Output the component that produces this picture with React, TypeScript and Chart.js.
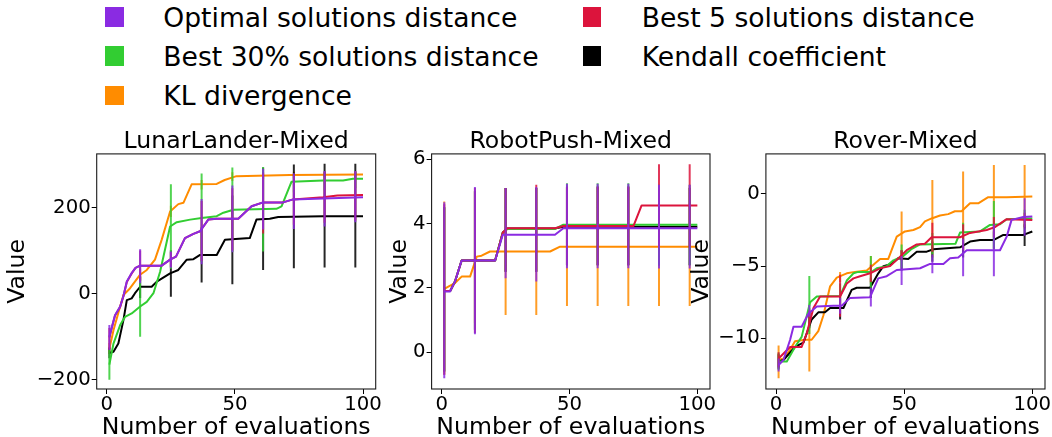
import React, { useEffect, useRef } from 'react';
import { Chart, registerables } from 'chart.js';

Chart.register(...registerables);

const FONT = "'DejaVu Sans', 'Noto Sans', sans-serif";

// ---------- legend / series ----------
const SERIES_NAMES = [
  'Optimal solutions distance',
  'Best 5 solutions distance',
  'Best 30% solutions distance',
  'Kendall coefficient',
  'KL divergence',
];
const SERIES_COLORS = ['#8a2be2', '#dc143c', '#32cd32', '#000000', '#ff8c00'];
const BAR_COLORS = [
  'rgba(138,43,226,0.85)',
  'rgba(220,20,60,0.85)',
  'rgba(50,205,50,0.85)',
  'rgba(0,0,0,0.85)',
  'rgba(255,140,0,0.85)',
];
// legend layout order (column-major, two columns)
const LEGEND_ORDER = [0, 2, 4, 1, 3];

const PANEL_TITLES = ['LunarLander-Mixed', 'RobotPush-Mixed', 'Rover-Mixed'];
const X_LABEL = 'Number of evaluations';
const Y_LABEL = 'Value';
const X_TICKS = [0, 50, 100];
const LL_Y_TICKS = [-200, 0, 200];
const RP_Y_TICKS = [0, 2, 4, 6];
const RV_Y_TICKS = [-10, -5, 0];
const ERR_X = [1, 13, 25, 37, 49, 61, 73, 85, 97];

// ---------- LunarLander-Mixed ----------
const LL_OPT = [[1,-100],[2,-77],[3.2,-50],[5.2,-30],[6.5,-5],[7.8,28],[9.7,48],[11.2,60],[13,65],[21.4,65],[24.7,79],[27,86],[30.5,129],[33.8,139],[36.4,145],[39.6,172],[42.9,174],[51.3,174],[56.5,203],[61,212],[68.8,212],[72.7,219],[84.4,221],[100,224]];
const LL_B5 = [[1,-102],[2,-78],[3.2,-51],[5.2,-31],[6.5,-6],[7.8,27],[9.7,47],[11.2,60],[13,65],[21.4,65],[24.7,79],[27,86],[30.5,129],[33.8,139],[36.4,145],[39.6,172],[42.9,174],[51.3,174],[56.5,203],[61,212],[68.8,212],[72.7,219],[84.4,224],[90,228],[100,229]];
const LL_B30 = [[1,-165],[2.6,-116],[5.2,-73],[7.1,-54],[9.7,-46],[13,-30],[15.6,-19],[18.2,1],[20.8,51],[24.7,156],[27.3,166],[32.5,172],[37,176],[42.9,180],[45.5,188],[49.4,195],[66.2,197],[68.2,203],[72.1,260],[84.4,263],[92.2,263],[96.1,267],[100,267]];
const LL_KEN = [[1,-138],[2.6,-135],[4.5,-116],[6.5,-61],[7.8,-15],[9.7,-11],[11,1],[13,16],[17.5,16],[19.5,28],[24.7,47],[27.9,55],[31.2,79],[33.8,80],[36.4,90],[42.9,90],[46.1,125],[55.8,129],[58.4,172],[63.6,174],[66.9,178],[84.4,180],[100,180]];
const LL_KL = [[1,-128],[2.6,-85],[5.2,-30],[6.5,-3],[9,12],[13,44],[15.6,55],[18.8,79],[21.4,125],[24.7,191],[27.9,208],[29.9,211],[33.1,254],[42.9,255],[46,264],[50.6,273],[71.4,275.5],[100,277]];
const LL_OPT_LO = [-131, 24, 60, 68, 96, 149, 150, 156, 166];
const LL_OPT_HI = [-73, 103, 98, 220, 251, 290, 280, 285, 285];
const LL_B5_LO = [-130, 30, 62, 75, 100, 140, 160, 165, 170];
const LL_B5_HI = [-80, 100, 96, 215, 245, 280, 275, 282, 284];
const LL_B30_LO = [-200, -100, 58, 73, 97, 98, 235, 240, 245];
const LL_B30_HI = [-131, 40, 254, 279, 293, 294, 275, 280, 283];
const LL_KEN_LO = [-150, -10, -7, 26, 22, 55, 59, 61, 61];
const LL_KEN_HI = [-125, 40, 101, 154, 228, 293, 300, 302, 302];
const LL_KL_LO = [-140, 30, 178, 242, 262, 266, 268, 270, 270];
const LL_KL_HI = [-115, 58, 204, 264, 282, 283, 283, 284, 284];

// ---------- RobotPush-Mixed ----------
const RP_OPT = [[1,1.89],[3.3,1.89],[5.2,2.2],[7.8,2.85],[20.9,2.85],[23.9,3.65],[44.3,3.65],[47.6,3.85],[100,3.85]];
const RP_B5 = [[1,1.9],[3.3,1.9],[5.2,2.2],[7.8,2.85],[20.9,2.85],[23.9,3.72],[25.7,3.85],[44.3,3.85],[47.6,3.92],[75,3.92],[78.2,4.56],[100,4.56]];
const RP_B30 = [[1,1.9],[3.3,1.9],[5.2,2.2],[7.8,2.85],[20.9,2.85],[23.9,3.72],[25.7,3.83],[44.3,3.83],[47.6,3.96],[100,3.96]];
const RP_KEN = [[1,1.9],[3.3,1.9],[5.2,2.2],[7.8,2.85],[20.9,2.85],[23.9,3.72],[25.7,3.84],[44.3,3.84],[47.6,3.9],[100,3.9]];
const RP_KL = [[1,1.97],[2.6,2.04],[5.2,2.15],[7.8,2.35],[11.1,2.35],[13.7,2.97],[15.6,3.0],[18.9,3.13],[42.4,3.13],[46.3,3.28],[100,3.28]];
const RP_OPT_LO = [-0.81, 0.56, 2.3, 2.2, 2.61, 2.61, 2.61, 2.6, 2.6];
const RP_OPT_HI = [4.66, 5.13, 5.1, 5.13, 5.23, 5.23, 5.23, 5.2, 5.2];
const RP_B5_LO = [-0.7, 0.6, 2.5, 2.5, 2.7, 2.7, 2.7, 3.28, 3.28];
const RP_B5_HI = [4.6, 5.1, 5.1, 5.2, 5.15, 5.15, 5.15, 5.84, 5.84];
const RP_B30_LO = [-0.6, 0.7, 2.5, 2.5, 2.7, 2.7, 2.7, 2.7, 2.7];
const RP_B30_HI = [4.5, 5.0, 5.1, 5.1, 5.25, 5.25, 5.25, 5.2, 5.2];
const RP_KEN_LO = [-0.6, 0.7, 2.5, 2.5, 2.7, 2.7, 2.7, 2.7, 2.7];
const RP_KEN_HI = [4.5, 5.0, 5.1, 5.1, 5.15, 5.15, 5.15, 5.1, 5.1];
const RP_KL_LO = [-0.7, 0.9, 1.16, 1.16, 1.44, 1.44, 1.44, 1.44, 1.44];
const RP_KL_HI = [4.68, 5.0, 5.1, 5.1, 5.12, 5.12, 5.12, 5.12, 5.12];

// ---------- Rover-Mixed ----------
const RV_OPT = [[1,-11.85],[2.9,-11.5],[5.5,-10.1],[6.8,-9.2],[10,-9.2],[12.6,-8.3],[15.9,-7.8],[22.4,-7.75],[25.6,-7.75],[28.9,-7.2],[36.7,-7.15],[39.9,-5.85],[43.2,-5.7],[47.1,-5.27],[56.2,-5.15],[60.1,-4.85],[65.3,-4.85],[67.9,-4.46],[71.1,-4.4],[74.4,-3.9],[87.4,-3.9],[90,-2.96],[91.9,-1.8],[96.5,-1.6],[100,-1.57]];
const RV_B5 = [[1,-11.4],[5.5,-10.6],[10,-10.6],[12,-9.65],[14.6,-7.9],[17.2,-7.1],[25,-7.1],[27.6,-6.2],[30.2,-5.85],[32.8,-5.7],[36.7,-5.5],[40.6,-5.15],[44.5,-5.0],[48.4,-4.35],[51,-3.9],[54.9,-3.5],[58.1,-3.45],[60.7,-3.0],[71.8,-3.0],[75.7,-2.7],[82.2,-2.5],[85.4,-2.3],[90,-1.75],[100,-1.8]];
const RV_B30 = [[1,-11.6],[4.2,-11.6],[7.4,-10.6],[10,-9.9],[13.3,-7.5],[15.9,-7.1],[25,-7.07],[27.6,-6.0],[30.2,-5.5],[32.1,-5.4],[37.3,-5.4],[39.3,-5.15],[43.2,-5.0],[45.8,-4.6],[49.7,-4.3],[53,-3.8],[56.2,-3.5],[70,-3.46],[71.8,-2.68],[79.6,-2.6],[83.5,-2.15],[87.4,-2.1],[90,-1.75],[100,-1.7]];
const RV_KEN = [[1,-11.6],[2.9,-11.5],[7.4,-10.6],[10.7,-10.3],[13.9,-8.7],[16.5,-8.2],[19.1,-8.2],[21.1,-7.9],[26.3,-7.9],[29.5,-6.65],[31.5,-6.5],[36.7,-6.5],[39.9,-5.5],[41.9,-5.0],[45.1,-4.85],[47.7,-4.46],[51.6,-4.5],[54.9,-4.0],[58.8,-4.0],[61.4,-3.83],[71.8,-3.7],[75.7,-3.3],[79.6,-3.2],[84.8,-3.2],[88.7,-2.84],[96.5,-2.84],[100,-2.6]];
const RV_KL = [[1,-11.5],[2.9,-11.4],[5.5,-10.8],[7.4,-10.2],[11.3,-10.1],[13.9,-10.1],[16.5,-9.5],[18.5,-8.4],[21.1,-6.4],[23.7,-5.8],[27.6,-5.5],[30.8,-5.4],[35.4,-5.3],[38,-4.9],[40.6,-4.5],[43.8,-4.5],[47.1,-2.96],[50.3,-2.6],[53.6,-2.5],[56.2,-2.3],[58.1,-1.9],[60.7,-1.7],[64,-1.5],[67.2,-1.4],[69.8,-1.2],[72.4,-1.2],[75.7,-0.65],[78.9,-0.65],[82.8,-0.23],[90,-0.23],[100,-0.18]];
const RV_OPT_LO = [-12.3, -8.5, -8.3, -7.8, -6.3, -5.5, -5.7, -5.7, -2.9];
const RV_OPT_HI = [-11.4, -7.7, -7.2, -6.5, -4.3, -4.2, -3.1, -2.1, -0.3];
const RV_B5_LO = [-12.0, -9.1, -8.5, -6.1, -4.6, -4.0, -3.9, -3.0, -2.3];
const RV_B5_HI = [-10.97, -8.1, -5.6, -4.9, -3.9, -2.0, -2.1, -1.6, -1.3];
const RV_B30_LO = [-12.2, -9.7, -7.9, -6.5, -5.1, -4.2, -3.6, -3.8, -2.3];
const RV_B30_HI = [-11.0, -5.68, -6.2, -4.3, -3.5, -2.7, -2.0, -0.5, -1.1];
const RV_KEN_LO = [-12.1, -9.3, -8.7, -7.2, -5.3, -4.7, -4.4, -3.8, -3.6];
const RV_KEN_HI = [-11.1, -8.1, -7.1, -5.8, -3.9, -3.3, -3.0, -2.6, -2.1];
const RV_KL_LO = [-12.77, -12.3, -6.1, -6.2, -4.2, -4.4, -3.95, -2.5, -2.4];
const RV_KL_HI = [-10.5, -7.9, -5.4, -4.3, -1.22, 0.97, 1.55, 2.0, 2.0];

type Pt = number[];
interface PanelCfg {
  title: string;
  lines: Pt[][];
  lo: number[][];
  hi: number[][];
  yMin: number;
  yMax: number;
  yTicks: number[];
  left: number;
  width: number;
  yWidth: number;
  padRight: number;
  yTitlePad: number;
}

const PANELS: PanelCfg[] = [
  {
    title: PANEL_TITLES[0],
    lines: [LL_OPT, LL_B5, LL_B30, LL_KEN, LL_KL],
    lo: [LL_OPT_LO, LL_B5_LO, LL_B30_LO, LL_KEN_LO, LL_KL_LO],
    hi: [LL_OPT_HI, LL_B5_HI, LL_B30_HI, LL_KEN_HI, LL_KL_HI],
    yMin: -221.6, yMax: 324.7, yTicks: LL_Y_TICKS,
    left: 0, width: 400, yWidth: 96.7, padRight: 24.3, yTitlePad: 4.1,
  },
  {
    title: PANEL_TITLES[1],
    lines: [RP_OPT, RP_B5, RP_B30, RP_KEN, RP_KL],
    lo: [RP_OPT_LO, RP_B5_LO, RP_B30_LO, RP_KEN_LO, RP_KL_LO],
    hi: [RP_OPT_HI, RP_B5_HI, RP_B30_HI, RP_KEN_HI, RP_KL_HI],
    yMin: -1.14, yMax: 6.16, yTicks: RP_Y_TICKS,
    left: 380, width: 355, yWidth: 51.6, padRight: 25, yTitlePad: 5.5,
  },
  {
    title: PANEL_TITLES[2],
    lines: [RV_OPT, RV_B5, RV_B30, RV_KEN, RV_KL],
    lo: [RV_OPT_LO, RV_B5_LO, RV_B30_LO, RV_KEN_LO, RV_KL_LO],
    hi: [RV_OPT_HI, RV_B5_HI, RV_B30_HI, RV_KEN_HI, RV_KL_HI],
    yMin: -13.51, yMax: 2.77, yTicks: RV_Y_TICKS,
    left: 684, width: 385, yWidth: 81.9, padRight: 24, yTitlePad: 4.0,
  },
];

const CANVAS_TOP = 118;
const CANVAS_H = 329;

const fmt = (v: number) => String(v).replace('-', '\u2212');

const framePlugin = {
  id: 'frame',
  afterDatasetsDraw(chart: any) {
    const { ctx, chartArea: a } = chart;
    ctx.save();
    ctx.strokeStyle = '#1a1a1a';
    ctx.lineWidth = 1.1;
    ctx.strokeRect(a.left, a.top, a.right - a.left, a.bottom - a.top);
    ctx.restore();
  },
};

function buildDatasets(p: PanelCfg) {
  const ds: any[] = [];
  for (let s = 0; s < 5; s++) {
    const barData: any[] = [];
    ERR_X.forEach((x, i) => {
      barData.push({ x, y: p.lo[s][i] }, { x, y: p.hi[s][i] }, { x, y: null });
    });
    ds.push({
      data: barData,
      borderColor: BAR_COLORS[s],
      borderWidth: 2,
      pointRadius: 0,
      spanGaps: false,
      tension: 0,
      fill: false,
      borderCapStyle: 'butt',
    });
    ds.push({
      data: p.lines[s].map(([x, y]) => ({ x, y })),
      borderColor: SERIES_COLORS[s],
      borderWidth: 2,
      pointRadius: 0,
      tension: 0,
      fill: false,
      borderJoinStyle: 'round',
    });
  }
  return ds;
}

function Panel({ p }: { p: PanelCfg }) {
  const ref = useRef<HTMLCanvasElement>(null);
  useEffect(() => {
    const tickFont = { family: FONT, size: 19.7, lineHeight: 1 };
    const labelFont = { family: FONT, size: 23.6, lineHeight: 1.2 };
    const grid = {
      display: true,
      drawOnChartArea: false,
      drawTicks: true,
      tickLength: 5,
      color: '#000',
      lineWidth: 1,
    };
    const chart = new Chart(ref.current as HTMLCanvasElement, {
      type: 'line',
      data: { datasets: buildDatasets(p) },
      plugins: [framePlugin],
      options: {
        responsive: false,
        maintainAspectRatio: false,
        animation: false,
        events: [],
        layout: { padding: { left: 0, right: p.padRight, top: 0, bottom: 0 } },
        plugins: {
          legend: { display: false },
          tooltip: { enabled: false },
          title: {
            display: true,
            text: p.title,
            color: '#000',
            fullSize: false,
            font: { family: FONT, size: 23.6, weight: 'normal', lineHeight: 1.0 },
            padding: { top: 12.3, bottom: 0 },
          },
        },
        scales: {
          x: {
            type: 'linear',
            min: -3.95,
            max: 104.95,
            afterBuildTicks: (a: any) => { a.ticks = X_TICKS.map((v) => ({ value: v })); },
            afterFit: (s: any) => { s.height = 58; },
            ticks: { color: '#000', font: tickFont, padding: 1, maxRotation: 0, autoSkip: false, callback: (v: any) => fmt(v) },
            grid,
            border: { display: false },
            title: { display: true, text: X_LABEL, color: '#000', font: labelFont, padding: { top: 0, bottom: 4.6 } },
          },
          y: {
            type: 'linear',
            min: p.yMin,
            max: p.yMax,
            afterBuildTicks: (a: any) => { a.ticks = p.yTicks.map((v) => ({ value: v })); },
            afterFit: (s: any) => { s.width = p.yWidth; },
            ticks: { color: '#000', font: tickFont, padding: 1, autoSkip: false, callback: (v: any) => fmt(v) },
            grid,
            border: { display: false },
            title: { display: true, text: Y_LABEL, color: '#000', font: labelFont, padding: { top: p.yTitlePad, bottom: 0 } },
          },
        },
      } as any,
    });
    return () => chart.destroy();
  }, [p]);
  return (
    <canvas
      ref={ref}
      width={p.width}
      height={CANVAS_H}
      style={{ position: 'absolute', left: p.left, top: CANVAS_TOP, width: p.width, height: CANVAS_H }}
    />
  );
}

const LEGEND_COL_SQ_X = [105, 582.7];
const LEGEND_COL_TX_X = [163.3, 641.7];
const LEGEND_ROW_BASE = [26.7, 65.7, 105];

function Legend() {
  return (
    <>
      {LEGEND_ORDER.map((s, k) => {
        const col = k < 3 ? 0 : 1;
        const row = k < 3 ? k : k - 3;
        const base = LEGEND_ROW_BASE[row];
        return (
          <React.Fragment key={s}>
            <div
              style={{
                position: 'absolute',
                left: LEGEND_COL_SQ_X[col],
                top: base - 19.4,
                width: 18.5,
                height: 19.4,
                background: SERIES_COLORS[s],
              }}
            />
            <div
              style={{
                position: 'absolute',
                left: LEGEND_COL_TX_X[col],
                top: base - 24.7,
                fontFamily: FONT,
                fontSize: 26.6,
                lineHeight: '31px',
                whiteSpace: 'nowrap',
                color: '#000',
              }}
            >
              {SERIES_NAMES[s]}
            </div>
          </React.Fragment>
        );
      })}
    </>
  );
}

export default function App() {
  return (
    <div
      style={{
        position: 'fixed',
        left: 0,
        top: 0,
        width: 1052,
        height: 437,
        overflow: 'hidden',
        background: '#fff',
      }}
    >
      <Legend />
      {PANELS.map((p, i) => (
        <Panel key={i} p={p} />
      ))}
    </div>
  );
}
